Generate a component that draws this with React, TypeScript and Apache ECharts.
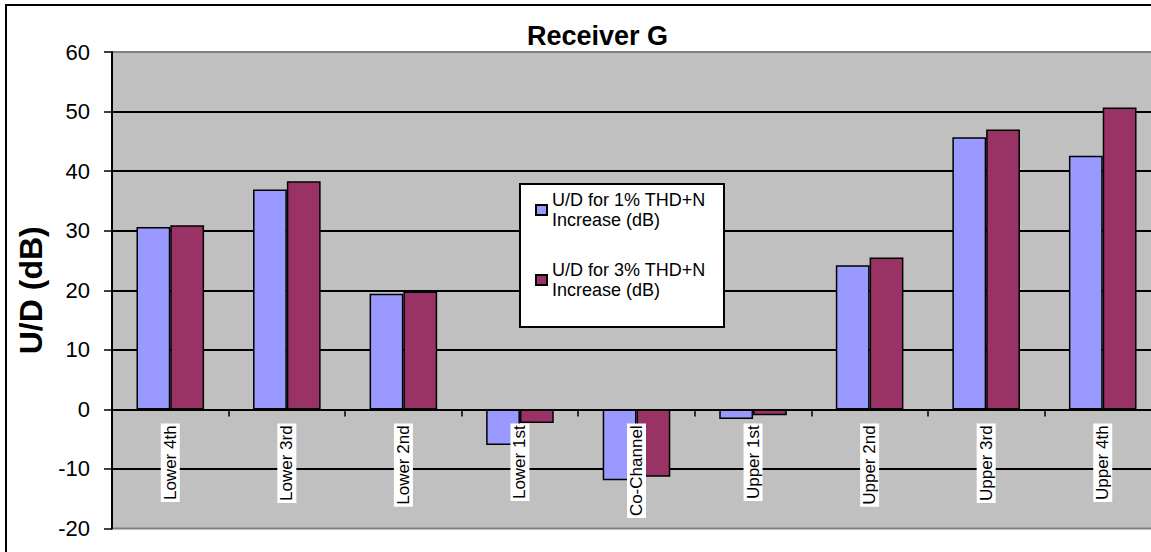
import React, { useEffect, useRef } from "react";
import * as echarts from "echarts";

const categories = [
  "Lower 4th",
  "Lower 3rd",
  "Lower 2nd",
  "Lower 1st",
  "Co-Channel",
  "Upper 1st",
  "Upper 2nd",
  "Upper 3rd",
  "Upper 4th",
];
const series1Name = "U/D for 1% THD+N Increase (dB)";
const series2Name = "U/D for 3% THD+N Increase (dB)";
const series1Values = [30.6, 36.9, 19.4, -6.0, -11.9, -1.6, 24.2, 45.7, 42.6];
const series2Values = [30.9, 38.3, 19.8, -2.3, -11.3, -1.0, 25.5, 47.0, 50.7];
const yMin = -20;
const yMax = 60;
const yStep = 10;

const FONT = 'Arial, "Liberation Sans", Helvetica, sans-serif';

const GRID_TOP = 52;
const GRID_BOTTOM_Y = 528.5;
const CH = 560;

export default function App() {
  const ref = useRef<HTMLDivElement>(null);
  useEffect(() => {
    if (!ref.current) return;
    const chart = echarts.init(ref.current, undefined, { renderer: "svg" });
    const zeroY = GRID_TOP + ((yMax - 0) / (yMax - yMin)) * (GRID_BOTTOM_Y - GRID_TOP);
    chart.setOption({
      animation: false,
      backgroundColor: "#ffffff",
      textStyle: { fontFamily: FONT },
      title: {
        text: "Receiver G",
        left: 527,
        top: 22,
        padding: 0,
        textStyle: { fontFamily: FONT, fontSize: 27, fontWeight: "bold", color: "#000" },
      },
      grid: {
        left: 112,
        top: GRID_TOP,
        right: 14,
        bottom: CH - GRID_BOTTOM_Y,
        containLabel: false,
        outerBoundsMode: "none",
        show: true,
        backgroundColor: "#C0C0C0",
        borderColor: "#808080",
        borderWidth: 2,
      },
      legend: {
        orient: "vertical",
        left: 535,
        top: 180,
        padding: 0,
        itemGap: 10,
        itemWidth: 11,
        itemHeight: 10,
        icon: "rect",
        selectedMode: false,
        formatter: (name: string) => name.replace(" Increase", "\nIncrease"),
        textStyle: {
          fontFamily: FONT,
          fontSize: 18,
          lineHeight: 20,
          color: "#000",
          padding: [20, 0, 0, 0],
        },
        z: 10,
      },
      graphic: [
        {
          type: "rect",
          z: 5,
          shape: { x: 520, y: 184, width: 204, height: 143 },
          style: { fill: "#ffffff", stroke: "#000000", lineWidth: 2 },
        },
        {
          type: "rect",
          z: 5,
          silent: true,
          shape: { x: 6, y: 5, width: 1160, height: 600 },
          style: { fill: "none", stroke: "#000000", lineWidth: 2 },
        },
      ],
      xAxis: {
        type: "category",
        data: categories,
        z: 4,
        offset: -(GRID_BOTTOM_Y - zeroY),
        axisLine: { onZero: false, lineStyle: { color: "#000", width: 2 } },
        axisTick: { show: true, length: 7, lineStyle: { color: "#000", width: 1.5 } },
        axisLabel: {
          interval: 0,
          rotate: 90,
          margin: 14,
          fontFamily: FONT,
          fontSize: 17,
          color: "#000",
          backgroundColor: "#ffffff",
          padding: [1, 2, 1, 2],
        },
        splitLine: { show: false },
      },
      yAxis: {
        type: "value",
        min: yMin,
        max: yMax,
        interval: yStep,
        name: "U/D (dB)",
        nameLocation: "middle",
        nameRotate: 90,
        nameGap: 62,
        nameTextStyle: { fontFamily: FONT, fontSize: 32, fontWeight: "bold", color: "#000" },
        axisLine: { show: true, lineStyle: { color: "#000", width: 2 } },
        axisTick: { show: true, length: 8, lineStyle: { color: "#000", width: 1.5 } },
        axisLabel: { margin: 22, fontFamily: FONT, fontSize: 22, color: "#000" },
        splitLine: {
          show: true,
          showMinLine: false,
          showMaxLine: false,
          lineStyle: { color: "#000", width: 1.8 },
        },
      },
      series: [
        {
          name: series1Name,
          type: "bar",
          data: series1Values,
          barGap: "0%",
          barCategoryGap: "42%",
          itemStyle: { color: "#9999FF", borderColor: "#000", borderWidth: 1.5 },
        },
        {
          name: series2Name,
          type: "bar",
          data: series2Values,
          barGap: "0%",
          barCategoryGap: "42%",
          itemStyle: { color: "#993366", borderColor: "#000", borderWidth: 1.5 },
        },
      ],
    });
    return () => chart.dispose();
  }, []);
  return (
    <div
      ref={ref}
      style={{ position: "fixed", left: 0, top: 0, width: 1175, height: CH }}
    />
  );
}
